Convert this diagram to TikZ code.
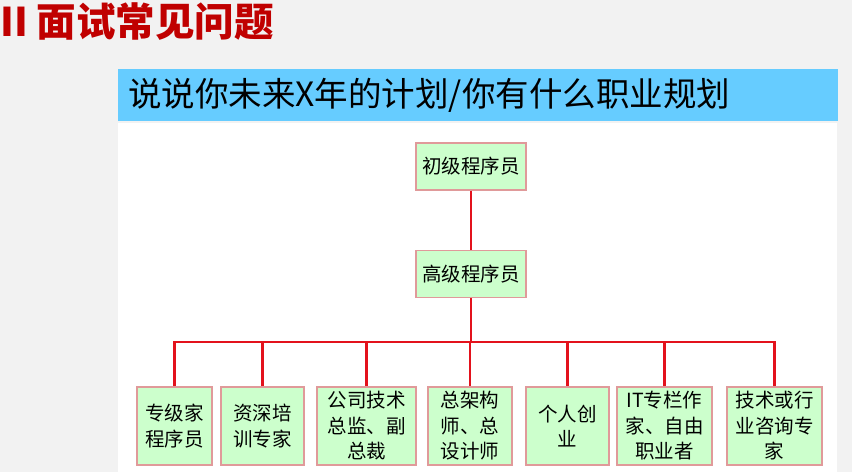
\documentclass[tikz,border=0pt]{standalone}
\usepackage{fontspec}
\setmainfont{Noto Sans CJK SC}
\usepackage{xcolor}
\usetikzlibrary{positioning}
\definecolor{pagegray}{HTML}{F2F2F2}
\definecolor{titlered}{HTML}{C00000}
\definecolor{bannerblue}{HTML}{66CCFF}
\definecolor{boxfill}{HTML}{CCFFCC}
\definecolor{boxline}{HTML}{E09A9A}
\definecolor{linkred}{HTML}{E3121C}

\begin{document}
\begin{tikzpicture}[
  x=1pt, y=-1pt,
  box/.style = {draw=boxline, line width=1.2pt, fill=boxfill, align=center, inner sep=0pt, font=\fontsize{19.5}{25.5}\selectfont},
  leaf/.style = {box, minimum height=78pt},
  link/.style = {draw=linkred, line width=2.8pt}
]
  % page
  \fill[pagegray] (0,0) rectangle (852,472);
  \useasboundingbox (0,0) rectangle (852,472);

  % heading
  \node[anchor=west, inner sep=0pt, text=titlered, font=\fontsize{39.5}{39.5}\selectfont\bfseries] (heading) at (0,22) {II 面试常见问题};

  % banner and panel
  \fill[bannerblue] (118,69) rectangle (838,121);
  \node[anchor=west, inner sep=0pt, font=\fontsize{33.5}{33.5}\selectfont] (question) at (128,95) {说说你未来X年的计划/你有什么职业规划};
  \fill[white] (118,123) rectangle (837,472);

  % top two levels
  \node[box, minimum width=110pt, minimum height=47pt] (junior) at (471,166.5) {初级程序员};
  \node[box, minimum width=110pt, minimum height=47pt] (senior) at (471,274) {高级程序员};
  \draw[link] (junior) -- (senior);
  \coordinate (bus) at (471,342);
  \draw[link] (senior) -- (bus);

  % career options
  \node[leaf, minimum width=75pt] (expert) at (174.5,426) {专级家\\程序员};
  \node[leaf, minimum width=83pt] (trainer) at (262.5,426) {资深培\\训专家};
  \node[leaf, minimum width=99pt] (cto) at (366.5,426) {公司技术\\总监、副\\总裁};
  \node[leaf, minimum width=84pt] (architect) at (470,426) {总架构\\师、总\\设计师};
  \node[leaf, minimum width=83pt] (founder) at (567.5,426) {个人创\\业};
  \node[leaf, minimum width=95pt] (writer) at (664.5,426) {IT专栏作\\家、自由\\职业者};
  \node[leaf, minimum width=95pt] (consultant) at (774.5,426) {技术或行\\业咨询专\\家};

  % drops from the bus
  \draw[link] (bus) -| (expert);
  \draw[link] (bus) -| (trainer);
  \draw[link] (bus) -| (cto);
  \draw[link] (bus) -| (architect);
  \draw[link] (bus) -| (founder);
  \draw[link] (bus) -| (writer);
  \draw[link] (bus) -| (consultant);
\end{tikzpicture}
\end{document}
